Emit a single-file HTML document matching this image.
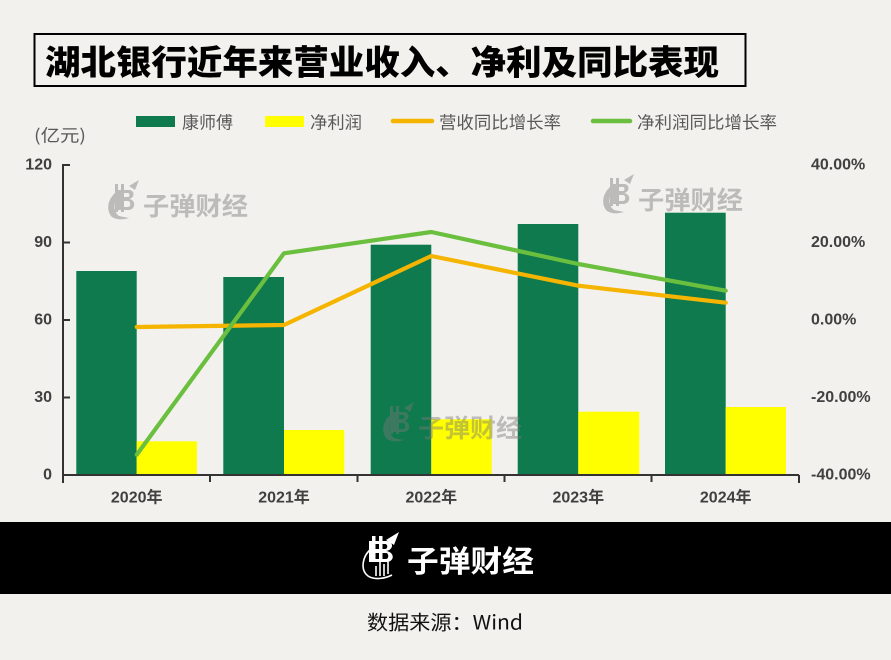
<!DOCTYPE html>
<html><head><meta charset="utf-8">
<style>
html,body{margin:0;padding:0;background:#F3F1ED;}
svg{display:block;}
text{font-family:"Liberation Sans","Noto Sans CJK SC",sans-serif;}
.cjk{font-family:"Noto Sans CJK SC","WenQuanYi Zen Hei",sans-serif;}
</style></head>
<body>
<svg width="891" height="660" viewBox="0 0 891 660" xmlns="http://www.w3.org/2000/svg">
<rect width="891" height="660" fill="#F3F1ED"/>
<!-- Title -->
<rect x="34.5" y="34" width="711" height="52" fill="none" stroke="#000" stroke-width="2"/>
<text class="cjk" x="45" y="60" dominant-baseline="central" font-size="34" font-weight="900" fill="#000" textLength="674" lengthAdjust="spacingAndGlyphs">湖北银行近年来营业收入、净利及同比表现</text>

<!-- Legend -->
<rect x="136" y="116" width="39" height="11" fill="#0E7A4D"/>
<text class="cjk" x="182" y="121" dominant-baseline="central" font-size="17" fill="#595959" textLength="51" lengthAdjust="spacingAndGlyphs">康师傅</text>
<rect x="265" y="116" width="39" height="11" fill="#FFFF00"/>
<text class="cjk" x="310" y="121" dominant-baseline="central" font-size="17" fill="#595959" textLength="52" lengthAdjust="spacingAndGlyphs">净利润</text>
<line x1="393" y1="121" x2="432" y2="121" stroke="#F5B400" stroke-width="4.5" stroke-linecap="round"/>
<text class="cjk" x="439" y="121" dominant-baseline="central" font-size="17" fill="#595959" textLength="122" lengthAdjust="spacingAndGlyphs">营收同比增长率</text>
<line x1="593" y1="121" x2="630" y2="121" stroke="#6BBF3E" stroke-width="4.5" stroke-linecap="round"/>
<text class="cjk" x="637" y="121" dominant-baseline="central" font-size="17" fill="#595959" textLength="140" lengthAdjust="spacingAndGlyphs">净利润同比增长率</text>

<text class="cjk" x="34" y="134" dominant-baseline="central" font-size="17" fill="#595959" textLength="52" lengthAdjust="spacingAndGlyphs">(亿元)</text>

<!-- Bars green -->
<g fill="#0E7A4D">
<rect x="76.3" y="271" width="60.4" height="204"/>
<rect x="223.3" y="277" width="60.7" height="198"/>
<rect x="370.7" y="244.7" width="60.6" height="230.3"/>
<rect x="517.7" y="224" width="60.6" height="251"/>
<rect x="665" y="212.7" width="60.7" height="262.3"/>
</g>
<g fill="#FFFF00">
<rect x="136.7" y="441.3" width="60.3" height="33.7"/>
<rect x="284" y="430" width="60.3" height="45"/>
<rect x="431.3" y="419.3" width="60.4" height="55.7"/>
<rect x="578.3" y="411.7" width="61" height="63.3"/>
<rect x="725.7" y="407" width="60.3" height="68"/>
</g>

<!-- Watermarks -->
<g fill="#7a7a7a" opacity="0.45">
  <g transform="translate(105,182)">
    <path d="M14 8 C4 14 0 26 6 34 C10 38 18 38 24 36 L14 34 C8 30 8 20 14 14 Z"/>
    <rect x="10" y="2" width="3" height="28"/>
    <rect x="16" y="2" width="3" height="28"/>
    <path d="M12 8 L24 8 C30 8 30 16 24 17 C31 18 31 27 24 28 L12 28 Z M16 11 L16 15 L23 15 C25 15 25 11 23 11 Z M16 19 L16 25 L23 25 C26 25 26 19 23 19 Z"/>
    <path d="M24 4 L34 -2 L30 8 Z"/>
  </g>
  <text class="cjk" x="143" y="205" dominant-baseline="central" font-size="25" font-weight="bold" textLength="105" lengthAdjust="spacingAndGlyphs">子弹财经</text>
  <g transform="translate(600,176)">
    <path d="M14 8 C4 14 0 26 6 34 C10 38 18 38 24 36 L14 34 C8 30 8 20 14 14 Z"/>
    <rect x="10" y="2" width="3" height="28"/>
    <rect x="16" y="2" width="3" height="28"/>
    <path d="M12 8 L24 8 C30 8 30 16 24 17 C31 18 31 27 24 28 L12 28 Z M16 11 L16 15 L23 15 C25 15 25 11 23 11 Z M16 19 L16 25 L23 25 C26 25 26 19 23 19 Z"/>
    <path d="M24 4 L34 -2 L30 8 Z"/>
  </g>
  <text class="cjk" x="638" y="199" dominant-baseline="central" font-size="25" font-weight="bold" textLength="105" lengthAdjust="spacingAndGlyphs">子弹财经</text>
  <g transform="translate(380,404)">
    <path d="M14 8 C4 14 0 26 6 34 C10 38 18 38 24 36 L14 34 C8 30 8 20 14 14 Z"/>
    <rect x="10" y="2" width="3" height="28"/>
    <rect x="16" y="2" width="3" height="28"/>
    <path d="M12 8 L24 8 C30 8 30 16 24 17 C31 18 31 27 24 28 L12 28 Z M16 11 L16 15 L23 15 C25 15 25 11 23 11 Z M16 19 L16 25 L23 25 C26 25 26 19 23 19 Z"/>
    <path d="M24 4 L34 -2 L30 8 Z"/>
  </g>
  <text class="cjk" x="418" y="427" dominant-baseline="central" font-size="25" font-weight="bold" textLength="104" lengthAdjust="spacingAndGlyphs">子弹财经</text>
</g>

<!-- Lines -->
<polyline points="136.7,327 284,325 431.3,256 578.3,285.7 725.7,302.7" fill="none" stroke="#F5B400" stroke-width="4.2" stroke-linejoin="round" stroke-linecap="round"/>
<polyline points="136.7,454.7 284,253.3 431.3,232 578.3,264 725.7,290.7" fill="none" stroke="#6BBF3E" stroke-width="4.2" stroke-linejoin="round" stroke-linecap="round"/>

<!-- Axes -->
<g stroke="#333" stroke-width="2">
<line x1="63" y1="164" x2="63" y2="483"/>
<line x1="62" y1="475" x2="799" y2="475"/>
<line x1="63" y1="165" x2="70" y2="165"/>
<line x1="63" y1="242.5" x2="70" y2="242.5"/>
<line x1="63" y1="320" x2="70" y2="320"/>
<line x1="63" y1="397.5" x2="70" y2="397.5"/>
<line x1="210" y1="475" x2="210" y2="482"/>
<line x1="357.5" y1="475" x2="357.5" y2="482"/>
<line x1="504.5" y1="475" x2="504.5" y2="482"/>
<line x1="651.5" y1="475" x2="651.5" y2="482"/>
<line x1="799" y1="475" x2="799" y2="483"/>
</g>

<!-- Left tick labels -->
<g font-size="16" font-weight="bold" fill="#404040" text-anchor="end">
<text x="52" y="165" dominant-baseline="central">120</text>
<text x="52" y="242.5" dominant-baseline="central">90</text>
<text x="52" y="320" dominant-baseline="central">60</text>
<text x="52" y="397.5" dominant-baseline="central">30</text>
<text x="52" y="475" dominant-baseline="central">0</text>
</g>
<!-- Right tick labels -->
<g font-size="16" font-weight="bold" fill="#404040">
<text x="811" y="165" dominant-baseline="central">40.00%</text>
<text x="811" y="242.5" dominant-baseline="central">20.00%</text>
<text x="811" y="320" dominant-baseline="central">0.00%</text>
<text x="811" y="397.5" dominant-baseline="central">-20.00%</text>
<text x="811" y="475" dominant-baseline="central">-40.00%</text>
</g>
<!-- X labels -->
<g font-size="16" font-weight="bold" fill="#404040" text-anchor="middle">
<text x="136.7" y="498" dominant-baseline="central">2020年</text>
<text x="284" y="498" dominant-baseline="central">2021年</text>
<text x="431.3" y="498" dominant-baseline="central">2022年</text>
<text x="578.3" y="498" dominant-baseline="central">2023年</text>
<text x="725.7" y="498" dominant-baseline="central">2024年</text>
</g>

<!-- Bottom banner -->
<rect x="0" y="522" width="891" height="72" fill="#000"/>
<g fill="none" stroke="#fff" stroke-width="1.6">
  <path d="M372 548 C362 556 360 570 368 576 C374 580 384 579 392 575"/>
  <path d="M376 566 L376 576 M380 562 L380 576 M384 564 L384 576 M388 560 L388 574"/>
</g>
<g fill="#fff">
  <rect x="372" y="536" width="3.5" height="26"/>
  <rect x="379" y="536" width="3.5" height="26"/>
  <path d="M369 541 L386 541 C394 541 394 550 386 551 C395 552 395 562 386 562 L369 562 Z M375 544 L375 549 L385 549 C388 549 388 544 385 544 Z M375 553 L375 559 L386 559 C389 559 389 553 386 553 Z"/>
  <path d="M386 540 L399 532 L394 545 Z"/>
</g>
<text class="cjk" x="407" y="559" dominant-baseline="central" font-size="30" font-weight="bold" fill="#fff" textLength="127" lengthAdjust="spacingAndGlyphs">子弹财经</text>

<!-- Source -->
<text class="cjk" x="367" y="621" dominant-baseline="central" font-size="20" fill="#111" textLength="156" lengthAdjust="spacingAndGlyphs">数据来源：Wind</text>
</svg>
</body></html>
